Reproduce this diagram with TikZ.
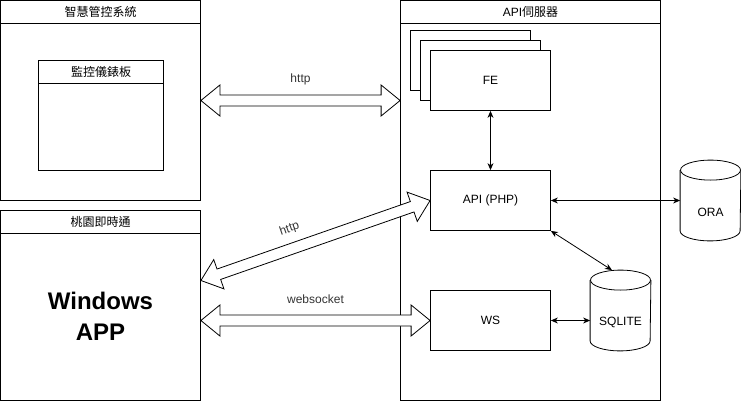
\documentclass[tikz,border=0pt]{standalone}
\usepackage{fontspec}
\setmainfont{Liberation Sans}
\newfontfamily\cjk{Noto Sans CJK TC}
\usepackage{tikz}
\usetikzlibrary{arrows.meta, positioning, calc}
\definecolor{inkc}{HTML}{000000}
\definecolor{labc}{HTML}{333333}
% titled container with a header strip
\newcommand{\lane}[5]{%
  \node[box, minimum width=#3, minimum height=#4] (#1) at #2 {};
  \draw (#1.north west) ++(0,23) -- ++(#3,0);
  \node[font=\fontsize{12}{14}\selectfont] at ($(#1.north)+(0,11.5)$) {#5};
}
% database drum
\newcommand{\dbunit}[3]{%
  \node[minimum width=60, minimum height=80, inner sep=0pt] (#1) at #2 {};
  \draw[fill=white] ($(#1.north west)+(0,10)$) -- ($(#1.south west)+(0,-10)$)
    arc[start angle=180, end angle=360, x radius=30pt, y radius=10pt]
    -- ($(#1.north east)+(0,10)$);
  \draw[fill=white] ($(#1.north)+(0,10)$) ellipse[x radius=30pt, y radius=10pt];
  \node at ($(#1)+(0,12)$) {#3};
}
% hollow two-headed arrow
\newcommand{\fatlink}[2]{%
  \draw[fatline] (#1)
    -- ($(#1)!19pt!(#2)!15.5pt!90:(#2)$)
    -- ($(#1)!19pt!(#2)!5.5pt!90:(#2)$)
    -- ($(#2)!19pt!(#1)!5.5pt!-90:(#1)$)
    -- ($(#2)!19pt!(#1)!15.5pt!-90:(#1)$)
    -- (#2)
    -- ($(#2)!19pt!(#1)!15.5pt!90:(#1)$)
    -- ($(#2)!19pt!(#1)!5.5pt!90:(#1)$)
    -- ($(#1)!19pt!(#2)!5.5pt!-90:(#2)$)
    -- ($(#1)!19pt!(#2)!15.5pt!-90:(#2)$)
    -- cycle;
}

\begin{document}
\begin{tikzpicture}[x=1pt, y=-1pt, >={Stealth[length=7pt, width=6pt]},
          line width=0.8pt, draw=inkc, font=\fontsize{12}{14}\selectfont,
          box/.style={draw=inkc, fill=white, inner sep=0pt},
          link/.style={<->, inkc},
          fatline/.style={draw=inkc, fill=white, line join=miter}]
        \useasboundingbox (-0.5,-0.5) rectangle (740.5,400.5);
        % containers
        \lane{sys}{(100,100)}{200}{200}{\cjk 智慧管控系統}
        \lane{dash}{(100.5,115)}{125}{110}{\cjk 監控儀錶板}
        \lane{app}{(100,305)}{200}{190}{\cjk 桃園即時通}
        \lane{srv}{(530,200)}{260}{400}{API{\cjk 伺服器}}
        \node[font=\bfseries\fontsize{24}{31}\selectfont, align=center]
          (winapp) at (100,316) {Windows\\APP};
        % server parts
        \foreach \d in {-20,-10}
          \node[box, minimum width=120, minimum height=60] at ($(490,80)+(\d,\d)$) {};
        \node[box, minimum width=120, minimum height=60] (fe) at (490,80) {FE};
        \node[box, minimum width=120, minimum height=60] (php) at (490,200) {API (PHP)};
        \node[box, minimum width=120, minimum height=60] (ws) at (490,320) {WS};
        \dbunit{sq}{(620,310)}{SQLITE}
        \dbunit{ora}{(710,200)}{ORA}
        \draw[link] (fe.south) -- (php.north);
        \draw[link] (php.east) -- (ora.west);
        \draw[link] (php.south east) -- (sq.102);
        \draw[link] (ws.east) -- (ws.east -| sq.west);
        % client links
        \coordinate (topR) at (srv.west |- sys.east);
        \coordinate (diagL) at ([yshift=25pt]app.east);
        \coordinate (sockL) at (app.east |- ws.west);
        \fatlink{sys.east}{topR}
        \fatlink{diagL}{php.west}
        \fatlink{sockL}{ws.west}
        \node[labc] (lbltop) at (300,79) {http};
        \node[labc, rotate=19.2, inner sep=1pt] (lbldiag) at (289,228.5) {http};
        \node[labc] (lblsock) at (315,299) {websocket};
      \end{tikzpicture}
\end{document}
